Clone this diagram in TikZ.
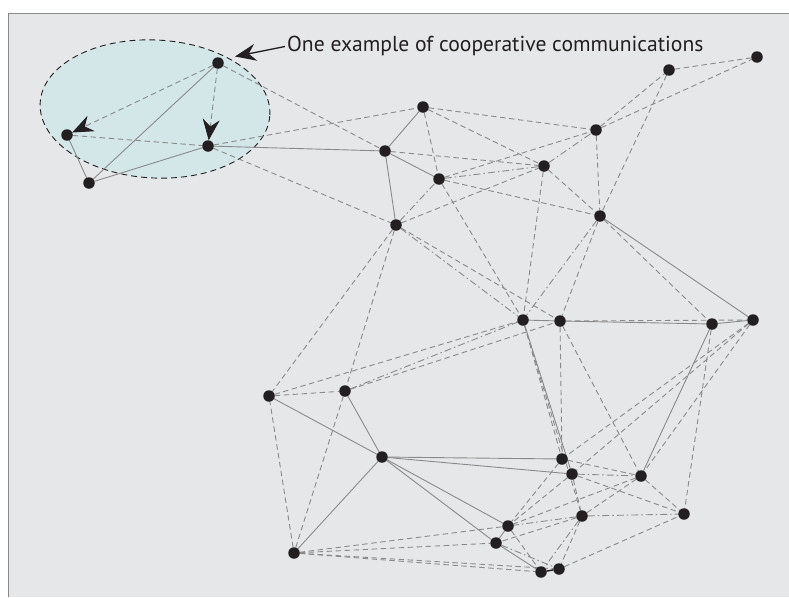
\documentclass[tikz,border=0pt]{standalone}
\usepackage{fontspec}
\setmainfont{PT Sans}
\usetikzlibrary{arrows.meta}
\definecolor{bgc}{HTML}{E6E7E8}
\definecolor{ellc}{HTML}{D3E6E8}
\definecolor{lnc}{HTML}{8A8A8A}
\definecolor{ndc}{HTML}{231F20}
\definecolor{framec}{HTML}{8A8A8A}
\pgfdeclarelayer{bglayer}
\pgfdeclarelayer{edgelayer}
\pgfsetlayers{bglayer,edgelayer,main}
\tikzset{
  dot/.style={circle,fill=ndc,draw=none,inner sep=0pt,minimum size=11.5pt,outer sep=0pt},
  sl/.style={draw=lnc,line width=0.9pt},
  dl/.style={draw=lnc,line width=0.9pt,dash pattern=on 5.5pt off 3.5pt},
  ddl/.style={draw=lnc,line width=0.9pt,dash pattern=on 7pt off 3pt on 1.5pt off 3pt},
  tipb/.style={-{Stealth[length=21pt,width=17pt,inset=7pt,color=ndc]}},
}
\begin{document}
\begin{tikzpicture}[x=1pt,y=-1pt]
\useasboundingbox (0,0) rectangle (789,597);
% nodes
\node[dot] (A) at (218,63) {};
\node[dot] (B) at (67,135) {};
\node[dot] (C) at (208,146) {};
\node[dot] (D) at (89,183) {};
\node[dot] (E) at (385,151) {};
\node[dot] (F) at (396,225) {};
\node[dot] (G) at (423,107) {};
\node[dot] (H) at (669,70) {};
\node[dot] (I) at (757,57) {};
\node[dot] (J) at (596,130) {};
\node[dot] (K) at (544,166) {};
\node[dot] (L) at (439,179) {};
\node[dot] (M) at (600,216) {};
\node[dot] (N) at (523,320) {};
\node[dot] (O) at (269,396) {};
\node[dot] (P) at (345,391) {};
\node[dot] (Q) at (560,321) {};
\node[dot] (R) at (712,324) {};
\node[dot] (S) at (753,320) {};
\node[dot] (T) at (382,457) {};
\node[dot] (U) at (294,553) {};
\node[dot] (V) at (508,526) {};
\node[dot] (W) at (496,543) {};
\node[dot] (X) at (541,572) {};
\node[dot] (Y) at (562,459) {};
\node[dot] (Z) at (572,474) {};
\node[dot] (AA) at (641,476) {};
\node[dot] (AB) at (582,516) {};
\node[dot] (AC) at (684,514) {};
\node[dot] (AD) at (559,569) {};
% label
\node[anchor=base west,inner sep=0pt,text=ndc,font=\fontsize{21.6}{25}\selectfont] (lbl) at (287,51) {One example of cooperative communications};
\coordinate (lblarrow) at (285,46.5);
\coordinate (tipA) at (235,56.5);
\draw[line width=1.3pt,draw=ndc,tipb] (lblarrow) -- (tipA);
\begin{pgfonlayer}{bglayer}
  \fill[bgc] (8,13) rectangle (789,597);
  \draw[framec,line width=1pt] (8,597) -- (8,13) -- (789,13);
  \draw[draw=ndc,fill=ellc,line width=0.9pt,dash pattern=on 6pt off 4pt,rotate around={-3:(155,109)}] (155,109) ellipse [x radius=115pt, y radius=69pt];
\end{pgfonlayer}
\begin{pgfonlayer}{edgelayer}
  \draw[dl,tipb] (A) -- (B);
  \draw[dl,tipb] (A) -- (C);
  \foreach \a/\b in {A/D,B/D,D/C,C/E,G/E,E/L,E/F,M/S,N/Q,Q/R,R/S,N/Z,R/AA,T/O,T/P,T/U,T/Y,T/Z,T/V,T/W,W/X,V/W}
    \draw[sl] (\a) -- (\b);
  \foreach \a/\b in {B/C,A/E,C/G,C/F,G/J,G/K,G/L,E/K,L/J,L/M,L/N,F/K,K/M,K/N,J/H,J/I,H/I,H/M,J/M,M/Q,M/R,
      F/O,F/P,F/Q,O/P,O/N,P/Q,Q/S,Q/Y,Q/AA,N/Y,N/AB,R/AC,S/AA,S/Y,S/Z,
      U/O,U/P,U/V,U/W,U/X,U/AD,Y/AA,Z/AC,AA/AC,AA/AB,AA/V,Y/V,Z/V,AB/W,AB/AD,AD/AC,V/X,Z/AB}
    \draw[dl] (\a) -- (\b);
  \foreach \a/\b in {L/K,F/L,K/J,M/N,F/N,P/N,Z/AA,AB/V,AB/AC,AB/X,W/AD}
    \draw[ddl] (\a) -- (\b);
  \draw[draw=ndc,line width=1.5pt] (X) -- (AD);
\end{pgfonlayer}
\end{tikzpicture}
\end{document}
